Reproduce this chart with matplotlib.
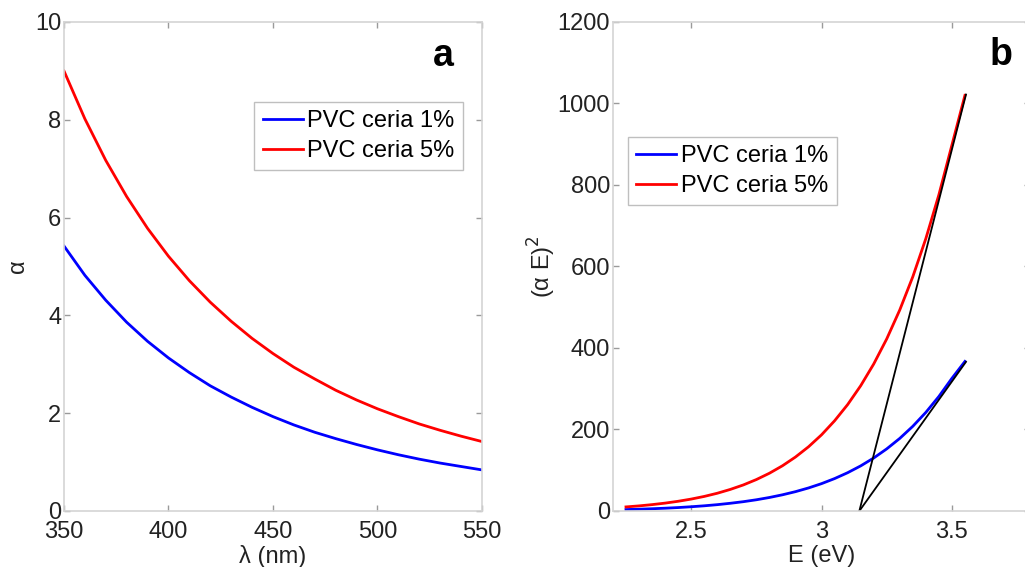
import matplotlib.pyplot as plt
import numpy as np

plt.rcParams['font.family'] = ['Liberation Sans', 'DejaVu Sans']

# panel a: absorption coefficient vs wavelength
wl = [350, 360, 370, 380, 390, 400, 410, 420, 430, 440, 450,
      460, 470, 480, 490, 500, 510, 520, 530, 540, 550]
alpha_1 = [5.42, 4.82, 4.31, 3.86, 3.47, 3.13, 2.83, 2.56, 2.33, 2.12, 1.93,
           1.76, 1.61, 1.48, 1.36, 1.25, 1.15, 1.06, 0.98, 0.91, 0.84]
alpha_5 = [9.00, 8.02, 7.17, 6.43, 5.78, 5.21, 4.71, 4.27, 3.88, 3.53, 3.22,
           2.94, 2.70, 2.47, 2.27, 2.09, 1.93, 1.78, 1.65, 1.53, 1.42]

# panel b: Tauc plot
energy = [2.25, 2.30, 2.35, 2.40, 2.45, 2.50, 2.55, 2.60, 2.65, 2.70,
          2.75, 2.80, 2.85, 2.90, 2.95, 3.00, 3.05, 3.10, 3.15, 3.20,
          3.25, 3.30, 3.35, 3.40, 3.45, 3.50, 3.55]
tauc_1 = [3.5, 4.4, 5.5, 6.8, 8.4, 10.4, 12.7, 15.5, 18.9, 22.8,
          27.5, 33.1, 39.7, 47.4, 56.5, 67.1, 79.5, 93.9, 110.6, 130.0,
          152.4, 178.1, 207.8, 241.9, 281.0, 325.5, 367.0]
tauc_5 = [10.0, 12.5, 15.6, 19.3, 23.8, 29.2, 35.7, 43.5, 52.9, 63.9,
          77.1, 92.6, 110.9, 132.4, 157.5, 186.9, 221.3, 261.0, 307.2, 360.6,
          422.3, 493.3, 574.8, 668.4, 775.9, 897.9, 1020.0]

# tangent lines
fit_x_1 = [3.145, 3.554]
fit_y_1 = [0, 366]
fit_x_5 = [3.145, 3.554]
fit_y_5 = [0, 1022]

labels = ['PVC ceria 1%', 'PVC ceria 5%']
spine_col = '#d4d4d4'
txt_col = '#222222'
fs = 17

fig = plt.figure(figsize=(10.25, 5.67), dpi=100)
ax1 = fig.add_axes([0.0624, 0.0988, 0.4078, 0.8624])
ax2 = fig.add_axes([0.598, 0.0988, 0.407, 0.8624])

def style(ax):
    for s in ax.spines.values():
        s.set_color(spine_col)
        s.set_linewidth(1.2)
    ax.tick_params(direction='in', length=4, width=1, color='#9a9a9a',
                   labelsize=fs, labelcolor=txt_col, top=True, right=True, pad=2)
    ax.tick_params(axis='x', pad=7)

def legend(ax, loc, anchor):
    leg = ax.legend(loc=loc, bbox_to_anchor=anchor, fontsize=fs,
                    fancybox=False, edgecolor='#b0b0b0', handlelength=1.7,
                    handletextpad=0.2, borderpad=0.35, labelspacing=0.33,
                    borderaxespad=0)
    leg.get_frame().set_linewidth(1.0)
    return leg

ax1.plot(wl, alpha_1, color='#0000ff', lw=2.0, label=labels[0])
ax1.plot(wl, alpha_5, color='#ff0000', lw=2.0, label=labels[1])
ax1.set_xlim(350, 550)
ax1.set_ylim(0, 10)
ax1.set_xticks([350, 400, 450, 500, 550])
ax1.set_yticks([0, 2, 4, 6, 8, 10])
ax1.set_xlabel('λ (nm)', fontsize=fs, color=txt_col, labelpad=2)
ax1.set_ylabel('α', fontsize=fs, color=txt_col)
ax1.yaxis.set_label_coords(-0.084, 0.5)
style(ax1)
legend(ax1, 'upper right', ((463 - 64) / 418, (511 - 102) / 489))
fig.text(443 / 1025, 1 - 56 / 567, 'a', fontsize=27, fontweight='bold',
         ha='center', va='center')

ax2.plot(energy, tauc_1, color='#0000ff', lw=2.0, label=labels[0])
ax2.plot(energy, tauc_5, color='#ff0000', lw=2.0, label=labels[1])
ax2.plot(fit_x_1, fit_y_1, color='black', lw=1.3)
ax2.plot(fit_x_5, fit_y_5, color='black', lw=1.3)
ax2.set_xlim(2.2, 3.8)
ax2.set_ylim(0, 1200)
ax2.set_xticks([2.5, 3, 3.5])
ax2.set_xticklabels(['2.5', '3', '3.5'])
ax2.set_yticks([0, 200, 400, 600, 800, 1000, 1200])
ax2.set_xlabel('E (eV)', fontsize=fs, color=txt_col, labelpad=2)
ax2.set_ylabel('(α E)$^2$', fontsize=fs, color=txt_col)
ax2.yaxis.set_label_coords(-0.131, 0.5)
style(ax2)
ax2.spines['right'].set_visible(False)
legend(ax2, 'upper left', ((628 - 613) / 417, (511 - 137) / 489))
fig.text(1001 / 1025, 1 - 55 / 567, 'b', fontsize=27, fontweight='bold',
         ha='center', va='center')

fig.savefig('out.png', dpi=100)
